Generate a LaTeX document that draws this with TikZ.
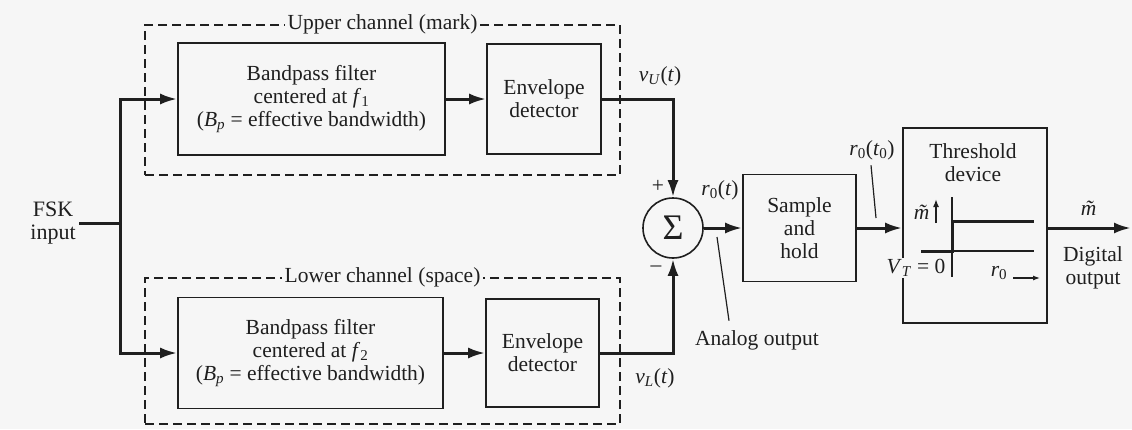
\documentclass[tikz,border=0pt]{standalone}
\usepackage{fontspec}
\setmainfont{Liberation Serif}
\usetikzlibrary{arrows.meta}
\definecolor{ink}{gray}{0.12}
\definecolor{paper}{gray}{0.965}
\newcommand\sbs[1]{\textsubscript{#1}}
\begin{document}
\begin{tikzpicture}[x=1pt,y=-1pt,
  font=\fontsize{21.5}{23}\selectfont,
  every node/.style={text=ink},
  box/.style={draw=ink, line width=1.6pt, align=center, inner sep=0pt},
  chan/.style={draw=ink, line width=1.4pt, dash pattern=on 9pt off 5pt, inner sep=0pt},
  sig/.style={draw=ink, line width=3pt},
  arr/.style={sig, -{Latex[length=17pt,width=11pt]}},
  thinline/.style={draw=ink, line width=1.2pt},
  lbl/.style={fill=paper, inner sep=3pt}]
\path[fill=paper, use as bounding box] (0,0) rectangle (1132,429);

% channel frames
\node[chan, minimum width=475pt, minimum height=150pt] (upper) at (382.5,100) {};
\node[chan, minimum width=475pt, minimum height=146pt] (lower) at (382.5,351) {};
\node[lbl] (upperlbl) at (upper.north) {Upper channel (mark)};
\node[lbl] (lowerlbl) at (lower.north) {Lower channel (space)};

% blocks
\node[box, minimum width=267pt, minimum height=112pt] (bpfU) at (311.5,99)
  {Bandpass filter\\centered at \textit{f}\sbs{1}\\(\textit{B}\sbs{\textit{p}} = effective bandwidth)};
\node[box, minimum width=114pt, minimum height=110pt] (envU) at (544,99)
  {Envelope\\detector};
\node[box, minimum width=265pt, minimum height=111pt] (bpfL) at (310.5,353)
  {Bandpass filter\\centered at \textit{f}\sbs{2}\\(\textit{B}\sbs{\textit{p}} = effective bandwidth)};
\node[box, minimum width=113pt, minimum height=108pt] (envL) at (542.5,353)
  {Envelope\\detector};
\node[circle, draw=ink, line width=1.6pt, minimum size=60pt, inner sep=0pt,
  font=\fontsize{36}{36}\selectfont] (sum) at (673,228) {Σ};
\node[box, minimum width=113pt, minimum height=107pt] (sh) at (799.5,228)
  {Sample\\and\\hold};
\node[box, minimum width=144pt, minimum height=195pt] (th) at (975,225.5) {};
\node[align=center] (thlbl) at (973,163) {Threshold\\device};

% input
\node[align=center, font=\fontsize{22}{23}\selectfont] (fsk) at (53,223) {FSK\\input};
\coordinate (j) at (120,223);
\draw[sig] (fsk.east) -- (j);
\draw[arr] (j) |- (bpfU.west);
\draw[arr] (j) |- (bpfL.west);

% channel paths
\draw[arr] (bpfU.east) -- (envU.west);
\draw[arr] (bpfL.east) -- (envL.west);
\draw[arr] (envU.east) -| (sum.north);
\draw[arr] (envL.east) -| (sum.south);
\draw[arr] (sum.east) -- (sh.west);
\draw[arr] (sh.east) -- (sh.east -| th.west);
\coordinate (out) at (1131,228);
\draw[arr] (th.east |- out) -- (out);

% labels
\node (vU) at (660,76) {\textit{v}\sbs{\textit{U}}(\textit{t})};
\node (vL) at (655,378) {\textit{v}\sbs{\textit{L}}(\textit{t})};
\node (plus) at (658,186) {+};
\node (minus) at (656,269) {\textendash};
\node (r0t) at (720,190) {\textit{r}\sbs{0}(\textit{t})};
\node (r0t0) at (872,150) {\textit{r}\sbs{0}(\textit{t}\sbs{0})};
\coordinate (r0tip) at (876,218);
\draw[thinline] (r0t0.south) ++(-1,2) -- (r0tip);
\node (analog) at (757,340) {Analog output};
\coordinate (antip) at (717,237);
\draw[thinline] (analog.north) ++(-28,-6) -- (antip);

% threshold characteristic
\coordinate (ax0) at (952,197);
\coordinate (ax1) at (952,277);
\draw[thinline] (ax0) -- (ax1);
\draw[thinline] (952,251) -- (1034,251);
\draw[draw=ink, line width=3pt, line join=miter] (921,251) -- (952,251) -- (952,221) -- (1034,221);
\node (mt) at (926,212) {\textit{\~m}};
\draw[draw=ink, line width=1.6pt, -{Latex[length=8pt,width=6pt]}] (936,223) -- (936,199);
\node[fill=paper, inner sep=1pt] (vt) at (916,268) {\textit{V}\sbs{\textit{T}} = 0};
\node (r0ax) at (999,273) {\textit{r}\sbs{0}};
\draw[draw=ink, line width=1.2pt, -{Latex[length=7pt,width=5pt]}] (1013,278) -- (1040,278);

% output labels
\node (mout) at (1093,208) {\textit{\~m}};
\node[align=center] (dig) at (1093,268) {Digital\\output};
\end{tikzpicture}
\end{document}
